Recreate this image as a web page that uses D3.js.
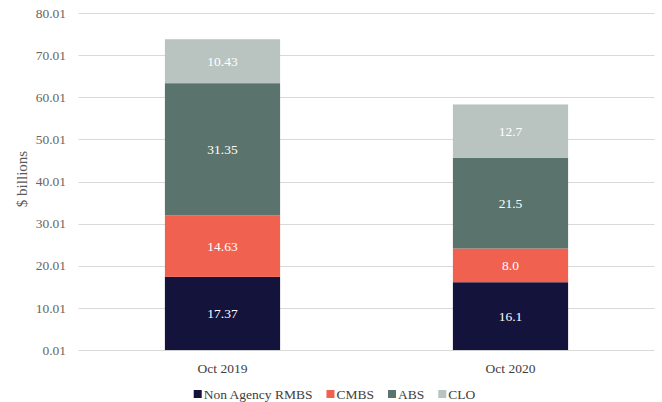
<!DOCTYPE html>
<html>
<head>
<meta charset="utf-8">
<script src="https://cdn.jsdelivr.net/npm/d3@7"></script>
<style>
  body { margin: 0; background: #fff; }
  text { font-family: Georgia, "Liberation Serif", "DejaVu Serif", serif; }
</style>
</head>
<body>
<svg id="chart" width="662" height="402"></svg>
<script>
// Data
var periods = ["Oct 2019", "Oct 2020"];
var seriesNames = ["Non Agency RMBS", "CMBS", "ABS", "CLO"];
var rmbs = [17.37, 16.1];
var cmbs = [14.63, 8.0];
var abs = [31.35, 21.5];
var clo = [10.43, 12.7];
var valueLabels = [["17.37", "16.1"], ["14.63", "8.0"], ["31.35", "21.5"], ["10.43", "12.7"]];
var yTicks = [0.01, 10.01, 20.01, 30.01, 40.01, 50.01, 60.01, 70.01, 80.01];
var colors = ["#14133b", "#f0614f", "#5a746d", "#b9c4c0"];

//Build rows for the stack layout
var seriesValues = [rmbs, cmbs, abs, clo];
var rows = periods.map(function (p, i) {
    var row = { period: p };
    seriesNames.forEach(function (s, j) { row[s] = seriesValues[j][i]; });
    return row;
});

var svg = d3.select("#chart");
var plotLeft = 78.5, plotRight = 654.5, plotTop = 13, plotBottom = 350;
var fs = 13.5;

var x = d3.scaleBand()
    .domain(periods)
    .range([plotLeft, plotRight])
    .paddingInner(0.6)
    .paddingOuter(0.3);

var y = d3.scaleLinear()
    .domain([0.01, 80.01])
    .range([plotBottom, plotTop]);

//Gridlines
svg.append("g")
    .selectAll("line")
    .data(yTicks)
    .enter().append("line")
    .attr("x1", plotLeft)
    .attr("x2", plotRight)
    .attr("y1", function (d) { return Math.round(y(d)) + 0.5; })
    .attr("y2", function (d) { return Math.round(y(d)) + 0.5; })
    .attr("stroke", "#d9d9d9")
    .attr("stroke-width", 1);

//Y tick labels
svg.append("g")
    .selectAll("text")
    .data(yTicks)
    .enter().append("text")
    .attr("x", 66)
    .attr("y", function (d) { return y(d); })
    .attr("dy", "0.35em")
    .attr("text-anchor", "end")
    .attr("font-size", fs)
    .attr("fill", "#666666")
    .text(function (d) { return d.toFixed(2); });

//Stacked bars
var stack = d3.stack().keys(seriesNames);
var layers = stack(rows);

var layer = svg.append("g")
    .selectAll("g")
    .data(layers)
    .enter().append("g")
    .attr("fill", function (d, i) { return colors[i]; });

layer.selectAll("rect")
    .data(function (d) { return d; })
    .enter().append("rect")
    .attr("x", function (d) { return x(d.data.period); })
    .attr("width", x.bandwidth())
    .attr("y", function (d) { return y(d[1]); })
    .attr("height", function (d) { return y(d[0]) - y(d[1]); });

//Value labels inside segments
layers.forEach(function (l, i) {
    svg.append("g")
        .selectAll("text")
        .data(l)
        .enter().append("text")
        .attr("x", function (d) { return x(d.data.period) + x.bandwidth() / 2; })
        .attr("y", function (d) { return (y(d[0]) + y(d[1])) / 2; })
        .attr("dy", "0.35em")
        .attr("text-anchor", "middle")
        .attr("font-size", fs)
        .attr("fill", "#ffffff")
        .text(function (d, j) { return valueLabels[i][j]; });
});

//X labels
svg.append("g")
    .selectAll("text")
    .data(periods)
    .enter().append("text")
    .attr("x", function (d) { return x(d) + x.bandwidth() / 2; })
    .attr("y", 368)
    .attr("dy", "0.35em")
    .attr("text-anchor", "middle")
    .attr("font-size", fs)
    .attr("fill", "#404040")
    .text(function (d) { return d; });

//Y axis title
svg.append("text")
    .attr("transform", "translate(22," + 179 + ") rotate(-90)")
    .attr("dy", "0.35em")
    .attr("text-anchor", "middle")
    .attr("font-size", 15)
    .attr("fill", "#595959")
    .text("$ billions");

//Legend, laid out from measured text widths and centered
var legend = svg.append("g");
var items = legend.selectAll("g")
    .data(seriesNames)
    .enter().append("g");

items.append("rect")
    .attr("width", 8)
    .attr("height", 8)
    .attr("y", -4)
    .attr("fill", function (d, i) { return colors[i]; });

items.append("text")
    .attr("x", 10)
    .attr("dy", "0.35em")
    .attr("font-size", fs)
    .attr("fill", "#404040")
    .text(function (d) { return d; });

var pos = 0;
var gap = 14;
items.each(function () {
    var w = 10 + this.querySelector("text").getComputedTextLength();
    d3.select(this).attr("transform", "translate(" + pos + ",0)");
    pos += w + gap;
});
var totalW = pos - gap;
legend.attr("transform", "translate(" + (334.5 - totalW / 2) + ",394)");
</script>
</body>
</html>
